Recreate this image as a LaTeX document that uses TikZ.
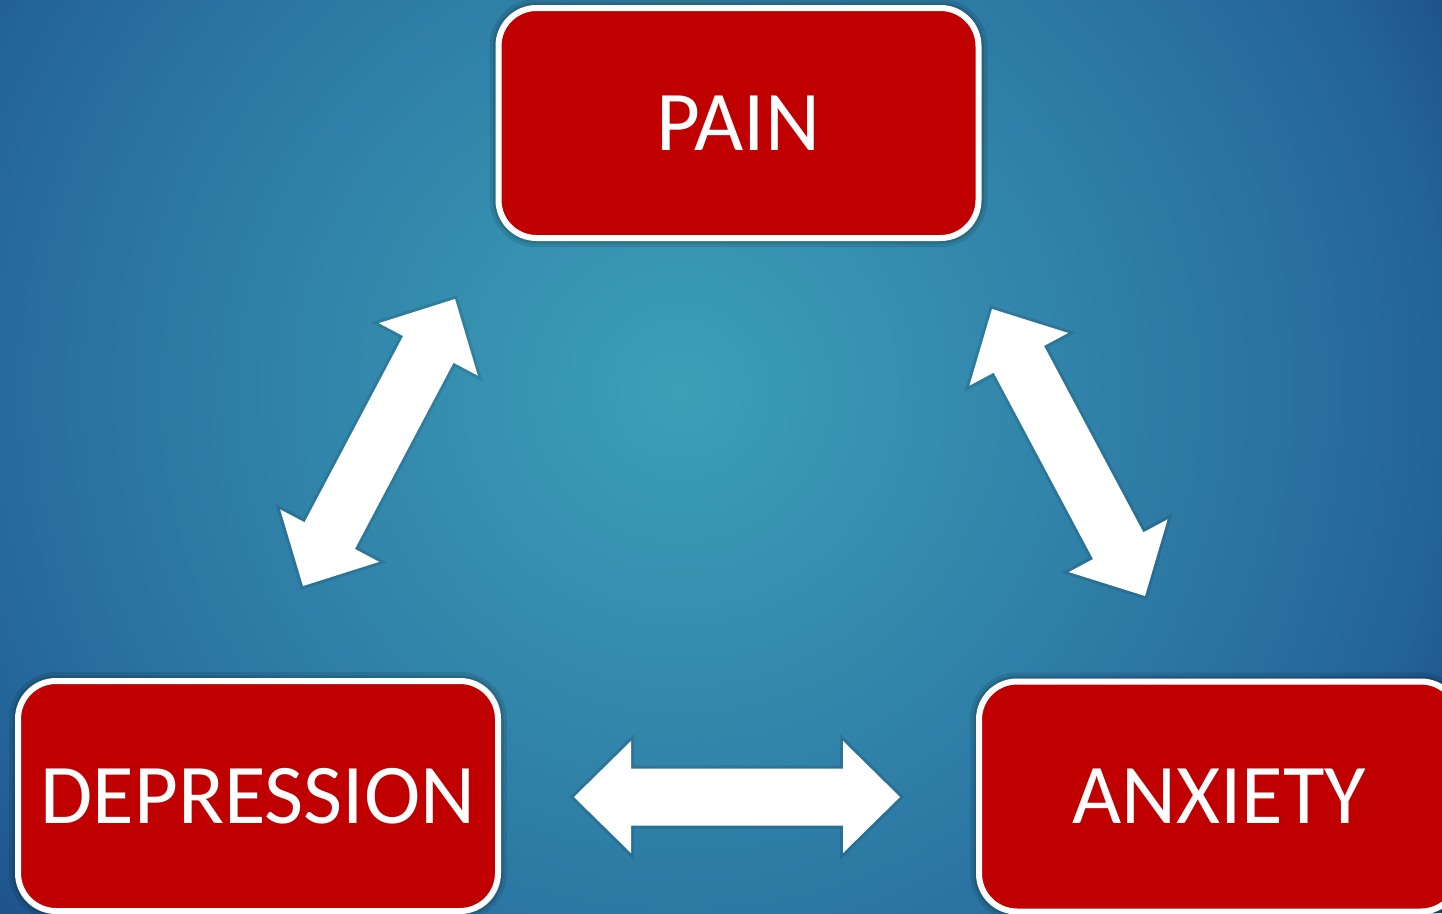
\documentclass[tikz,border=0pt]{standalone}
\usepackage{fontspec}
\setmainfont{Carlito}
\usetikzlibrary{calc}
\definecolor{bgA}{RGB}{60,160,183}
\definecolor{bgB}{RGB}{45,122,165}
\definecolor{bgC}{RGB}{36,100,152}
\definecolor{bgD}{RGB}{29,82,138}
\definecolor{boxred}{RGB}{192,0,0}
\pgfdeclareradialshading{bgshade}{\pgfpoint{0bp}{0bp}}{color(0bp)=(bgA); color(14bp)=(bgB); color(21bp)=(bgC); color(24bp)=(bgD); color(50bp)=(bgD)}
\newcommand{\dblarrow}[2]{%
  \fill[arrowfill] (#1)
    -- ($(#1)!57pt!(#2)!56pt!90:(#2)$)
    -- ($(#1)!57pt!(#2)!28.5pt!90:(#2)$)
    -- ($(#2)!57pt!(#1)!28.5pt!-90:(#1)$)
    -- ($(#2)!57pt!(#1)!56pt!-90:(#1)$)
    -- (#2)
    -- ($(#2)!57pt!(#1)!56pt!90:(#1)$)
    -- ($(#2)!57pt!(#1)!28.5pt!90:(#1)$)
    -- ($(#1)!57pt!(#2)!28.5pt!-90:(#2)$)
    -- ($(#1)!57pt!(#2)!56pt!-90:(#2)$)
    -- cycle;}
\begin{document}
\begin{tikzpicture}[x=1pt,y=-1pt,
  box/.style={draw=white, line width=6pt, fill=boxred, rounded corners=38pt,
    minimum width=480pt, minimum height=230pt, text=white, inner sep=0pt,
    font=\fontsize{85pt}{100pt}\selectfont,
    preaction={draw=black, draw opacity=0.10, line width=18pt},
    preaction={draw=black, draw opacity=0.12, line width=11pt}},
  arrowfill/.style={fill=white,
    preaction={draw=black, draw opacity=0.10, line width=6pt, line join=miter}}]
\useasboundingbox (0,0) rectangle (1442,913);
\begin{scope}
  \clip (0,0) rectangle (1442,913);
  \fill[bgD] (0,0) rectangle (1442,913);
  \shade[shading=bgshade] (680,390) circle (900);
\end{scope}

\node[box] (pain) at (738.5,123) {\raisebox{-7pt}{PAIN}};
\node[box] (depression) at (258,796) {\raisebox{-9pt}{DEPRESSION}};
\node[box] (anxiety) at (1219,796.5) {\raisebox{-9pt}{ANXIETY}};

\coordinate (l1) at (455,299);
\coordinate (l2) at (303,586);
\coordinate (r1) at (992,309);
\coordinate (r2) at (1145,596);
\coordinate (h1) at (574,797);
\coordinate (h2) at (900,797);

\dblarrow{l1}{l2}
\dblarrow{r1}{r2}
\dblarrow{h1}{h2}
\end{tikzpicture}
\end{document}
